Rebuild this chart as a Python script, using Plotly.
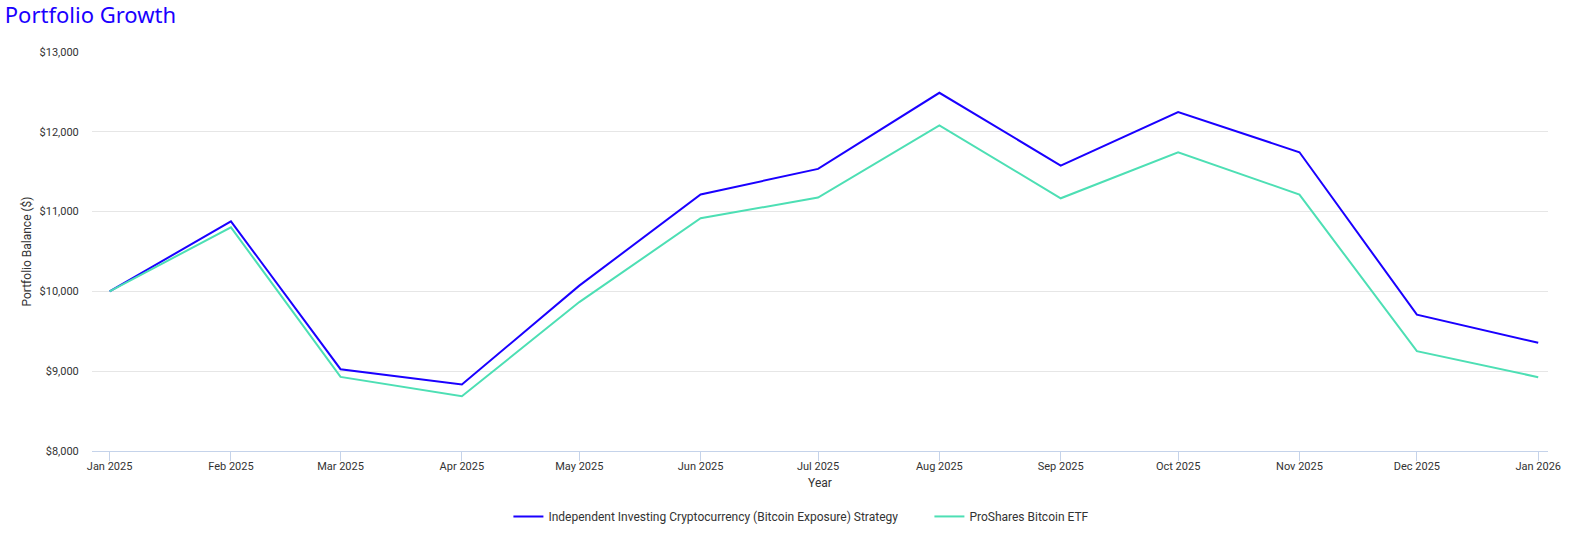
import plotly.graph_objects as go

dates = ["2025-01-01", "2025-02-01", "2025-03-01", "2025-04-01", "2025-05-01", "2025-06-01",
         "2025-07-01", "2025-08-01", "2025-09-01", "2025-10-01", "2025-11-01", "2025-12-01",
         "2026-01-01"]
strategy = [10000, 10878, 9025, 8833, 10072, 11215, 11535, 12489, 11577, 12248, 11744, 9708, 9356]
etf = [10000, 10803, 8929, 8686, 9866, 10916, 11176, 12079, 11167, 11744, 11213, 9251, 8925]

names = ["Independent Investing Cryptocurrency (Bitcoin Exposure) Strategy", "ProShares Bitcoin ETF"]
colors = ["#1a00ff", "#4ddfb4"]

fig = go.Figure()
for nm, ys, c in zip(names, [strategy, etf], colors):
    fig.add_trace(go.Scatter(x=dates, y=ys, name=nm, mode="lines",
                             line=dict(color=c, width=2)))

fig.update_layout(
    width=1589, height=537,
    paper_bgcolor="white", plot_bgcolor="white",
    margin=dict(l=92, r=41, t=52, b=86, autoexpand=False),
    font=dict(family="Roboto", size=11, color="#333333"),
    title=dict(text="Portfolio Growth", x=0.003, xanchor="left", y=0.971, yref="container",
               yanchor="middle",
               pad=dict(l=0, r=0, t=0, b=0),
               font=dict(family="Noto Sans", size=22, color="#1a00ff")),
    showlegend=True,
    legend=dict(orientation="h", x=0.286, xanchor="left", y=-0.164, yanchor="middle",
                font=dict(size=12, color="#333333"), entrywidth=376),
    xaxis=dict(
        type="date", automargin=False,
        range=["2024-12-27 12:00", "2026-01-03 12:00"],
        tick0="2025-01-01", dtick="M1", tickformat="%b %Y",
        showgrid=False, showline=True, linecolor="#c5d3ea", linewidth=1,
        ticks="outside", ticklen=9, tickcolor="#c5d3ea", ticklabelstandoff=-4,
        tickfont=dict(size=11, color="#333333"),
        title=dict(text="Year", font=dict(size=12, color="#333333"), standoff=6),
        zeroline=False,
    ),
    yaxis=dict(
        automargin=False,
        range=[8000, 13000], dtick=1000, tickprefix="$", tickformat=",d",
        showgrid=True, gridcolor="#e6e6e6", gridwidth=1,
        showline=False, zeroline=False,
        ticks="outside", ticklen=10, tickcolor="rgba(0,0,0,0)",
        tickfont=dict(size=11, color="#333333"),
        title=dict(text="Portfolio Balance ($)", font=dict(size=12, color="#333333"), standoff=5),
    ),
)

fig.write_html("out.html", config={"displayModeBar": False},
               post_script="document.body.style.margin='0';")
